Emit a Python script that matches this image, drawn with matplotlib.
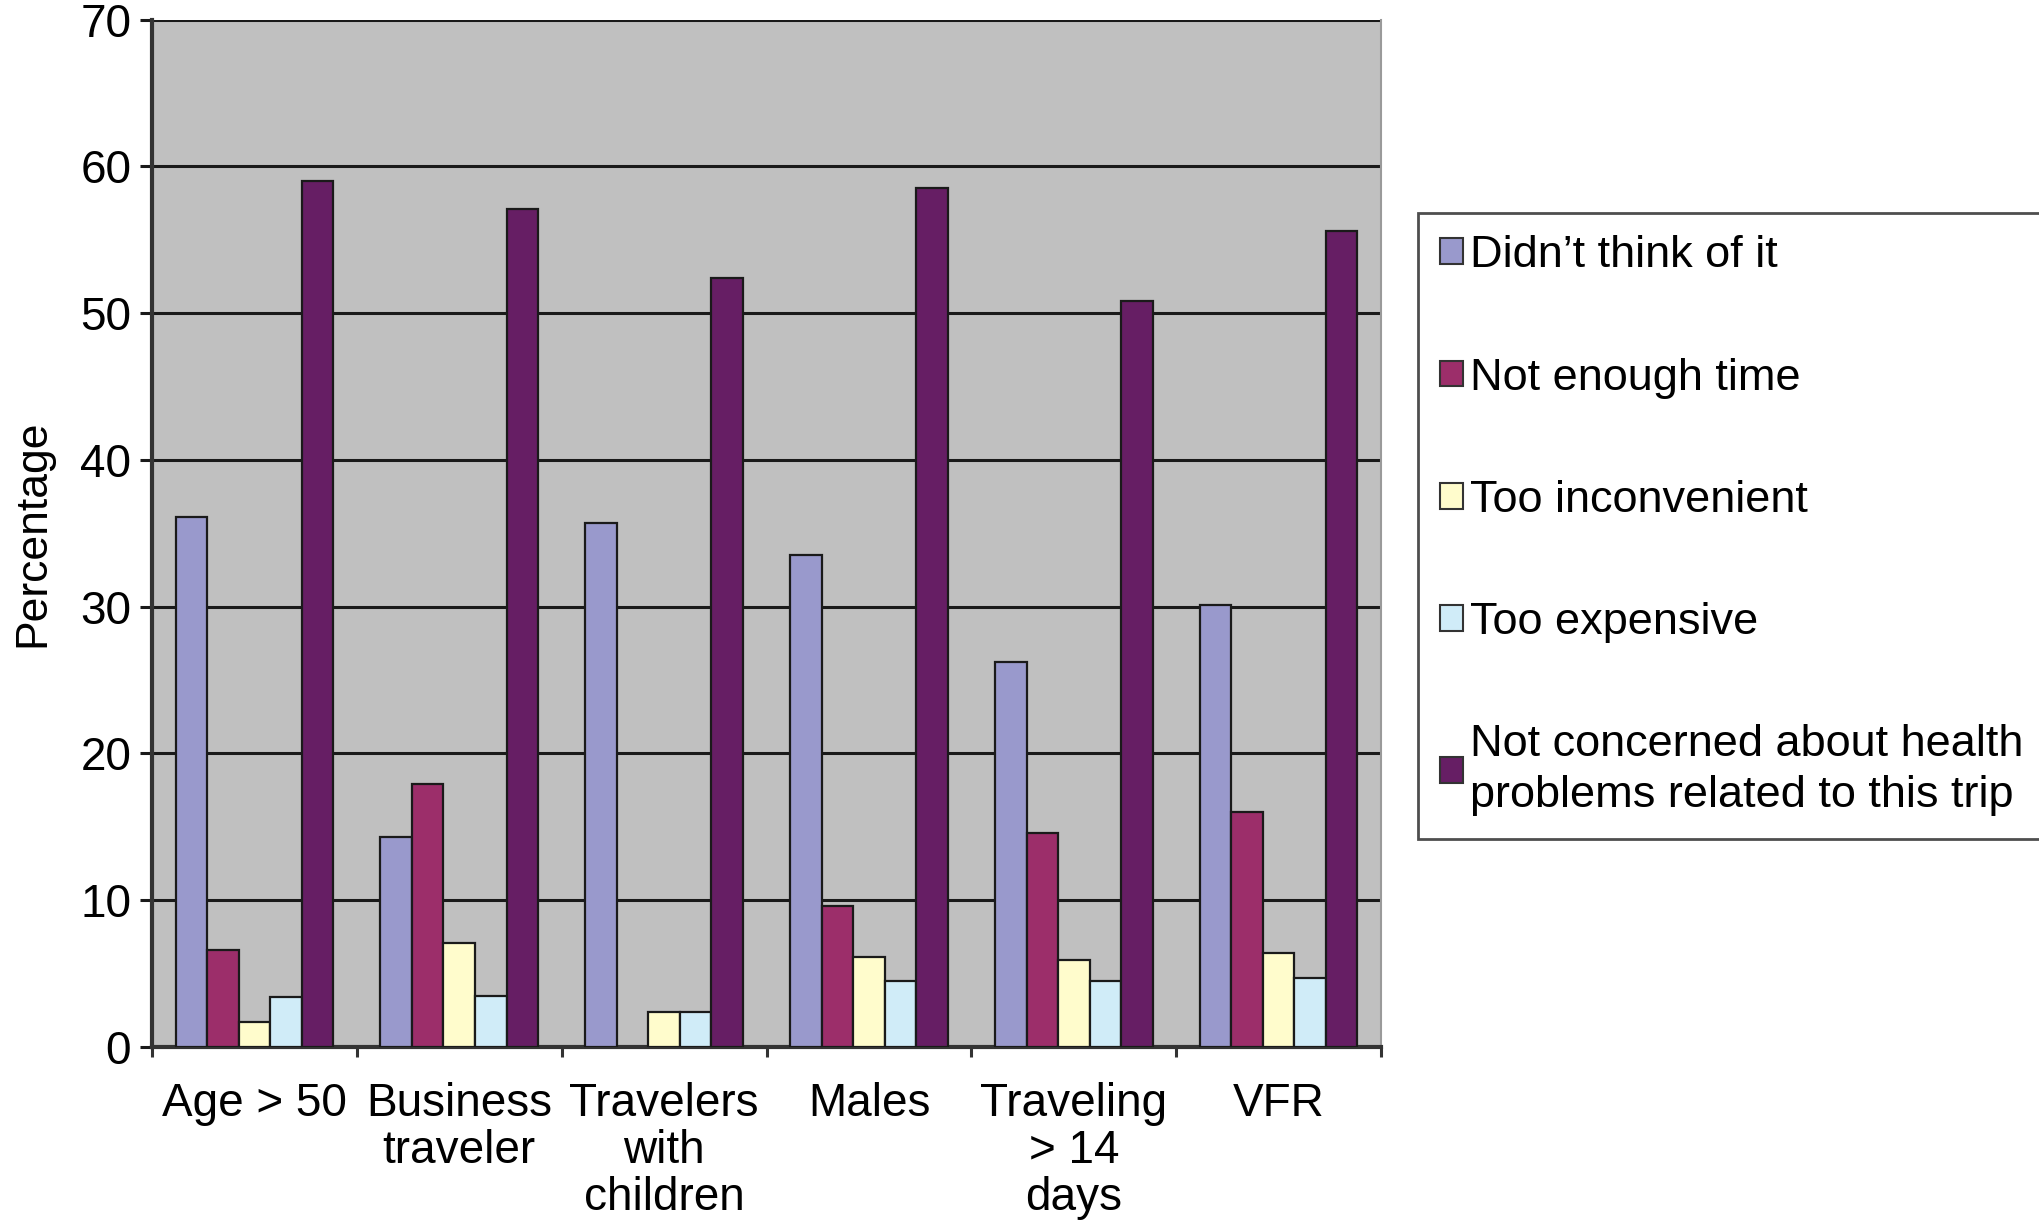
import matplotlib
matplotlib.use("Agg")
import matplotlib.pyplot as plt
import numpy as np
from matplotlib.patches import Patch

plt.rcParams["font.family"] = ["Liberation Sans", "DejaVu Sans"]

categories = ["Age > 50", "Business\ntraveler", "Travelers\nwith\nchildren",
              "Males", "Traveling\n> 14\ndays", "VFR"]
series_names = ["Didn’t think of it", "Not enough time", "Too inconvenient",
                "Too expensive",
                "Not concerned about health\nproblems related to this trip"]
didnt_think = [36.1, 14.3, 35.7, 33.5, 26.2, 30.1]
not_enough_time = [6.6, 17.9, 0.0, 9.6, 14.6, 16.0]
too_inconvenient = [1.7, 7.1, 2.4, 6.1, 5.9, 6.4]
too_expensive = [3.4, 3.5, 2.4, 4.5, 4.5, 4.7]
not_concerned = [59.0, 57.1, 52.4, 58.5, 50.8, 55.6]
series = [didnt_think, not_enough_time, too_inconvenient, too_expensive, not_concerned]
colors = ["#9999CC", "#9C2E6A", "#FFFCCC", "#D0ECF8", "#661E64"]

fig = plt.figure(figsize=(20.4, 12.23), dpi=100)
ax = fig.add_axes([0.0745, 0.144, 0.6025, 0.84])
ax.set_facecolor("#C0C0C0")

x = np.arange(len(categories))
w = 1 / 6.5
for k, (vals, col) in enumerate(zip(series, colors)):
    v = np.array(vals)
    ax.bar(x + (k - 2) * w, np.where(v > 0, v, np.nan), width=w, color=col,
           edgecolor="#1a1a1a", linewidth=1.6, zorder=3)

ax.set_xlim(-0.5, len(categories) - 0.5)
ax.set_ylim(0, 70)
ax.set_yticks(range(0, 71, 10))
ax.yaxis.grid(True, color="#1a1a1a", linewidth=2.2, zorder=1)
ax.set_axisbelow(True)

ax.set_xticks(x)
ax.set_xticklabels(categories, fontsize=33, linespacing=1.1)
ax.set_xticks(np.arange(-0.5, len(categories)), minor=True)
ax.tick_params(axis="x", which="major", length=0, pad=25)
ax.tick_params(axis="x", which="minor", length=7, width=2.2, color="#333333")
ax.tick_params(axis="y", labelsize=33, length=9, width=2.2, color="#1a1a1a", pad=6)

ax.set_ylabel("Percentage", fontsize=32)
ax.yaxis.set_label_coords(-0.08, 0.5)

for s in ["left", "bottom"]:
    ax.spines[s].set_color("#333333")
    ax.spines[s].set_linewidth(3)
ax.spines["top"].set_visible(False)
ax.spines["right"].set_color("#9a9a9a")
ax.spines["right"].set_linewidth(1.5)

handles = [Patch(facecolor=c, edgecolor="#333333", linewidth=1.5) for c in colors]
leg = fig.legend(handles, series_names, loc="upper left",
                 bbox_to_anchor=(0.695, 0.826), fontsize=32.5,
                 frameon=True, fancybox=False, edgecolor="#222222",
                 handlelength=0.5, handleheight=0.5, handletextpad=0.15,
                 labelspacing=1.8, borderpad=0.5, borderaxespad=0)
leg.get_frame().set_linewidth(2)
leg.get_texts()[-1].set_linespacing(1.3)

fig.savefig("out.png", dpi=100)
